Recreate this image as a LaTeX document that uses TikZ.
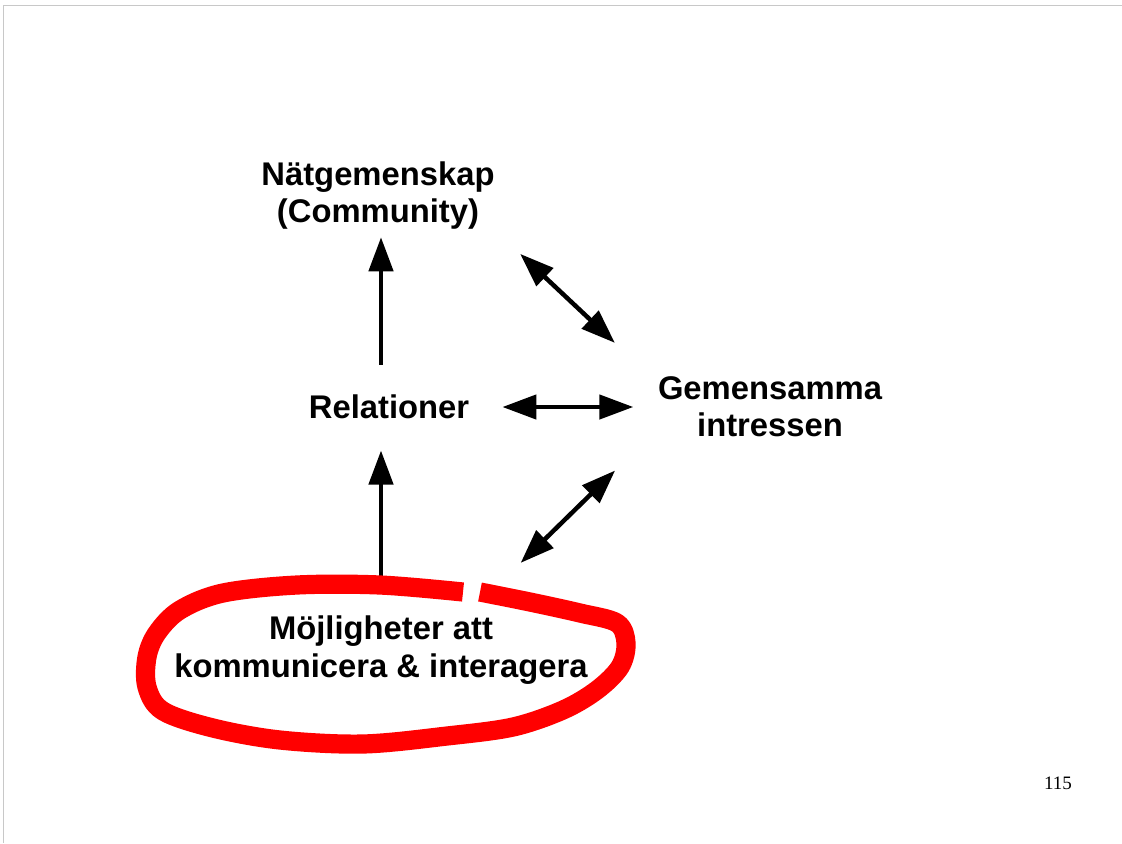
\documentclass[tikz,border=0pt]{standalone}
\usepackage{fontspec}
\setmainfont{Liberation Sans}
\newfontfamily\slidenumfont{Liberation Serif}
\usetikzlibrary{arrows.meta}
\definecolor{loopred}{RGB}{255,0,0}
\definecolor{framegray}{RGB}{200,200,200}
\tikzset{
  concept/.style={inner sep=0pt, align=center,
                  font=\fontsize{23.3}{26.3}\selectfont\bfseries},
  garrow/.style ={-{Triangle[length=0.85cm, width=0.6cm]}, line width=3.2pt},
  gdouble/.style={{Triangle[length=0.85cm, width=0.6cm]}-{Triangle[length=0.85cm, width=0.6cm]},
                  line width=3.2pt},
  redloop/.style={line width=0.48cm, loopred, line cap=butt, line join=round},
  slideframe/.style={line width=0.7pt, framegray},
  slidenum/.style={inner sep=0pt, font=\slidenumfont\fontsize{13.5}{16}\selectfont},
}

\begin{document}
\begin{tikzpicture}[x=0.025cm, y=-0.025cm]
  \useasboundingbox (0,0) rectangle (1122,843);
  \draw[slideframe] (1122,5) -- (3,5) -- (3,843);
  % the four concepts
  \node[concept] (natgem) at (378,196) {Nätgemenskap\\(Community)};
  \node[concept] (relat)  at (389,407) {Relationer};
  \node[concept] (gemint) at (770,407) {Gemensamma\\intressen};
  \node[concept] (mojlig) at (381,650) {Möjligheter att\\[1pt]kommunicera \& interagera};
  % arrows between them
  \draw[garrow, shorten <=0.9cm, shorten >=0.78cm] (mojlig.north) -- (relat.south -| mojlig.north);
  \draw[garrow, shorten <=0.75cm, shorten >=0.18cm] (relat.north -| mojlig.north) -- (natgem.south -| mojlig.north);
  \draw[gdouble, shorten <=0.825cm, shorten >=0.61cm] (relat.east) -- (gemint.west);
  \draw[gdouble, shorten <=0.87cm, shorten >=1.47cm] (natgem.south east) -- (gemint.168);
  \draw[gdouble, shorten <=1.87cm, shorten >=1.49cm] (mojlig.22) -- (gemint.191);
  % hand-drawn red ring
  \draw[redloop] plot[smooth, tension=0.55] coordinates {
    (480,592) (530,602) (580,613) (617,623) (626,643) (620,667) (597,690)
    (563,710) (513,727) (447,736) (363,744) (280,740) (213,728) (163,711)
    (147,687) (147,657) (157,633) (180,610) (223,593) (297,585) (380,585) (463,592)};
  \node[slidenum] (pagenum) at (1058,783) {115};
\end{tikzpicture}
\end{document}
